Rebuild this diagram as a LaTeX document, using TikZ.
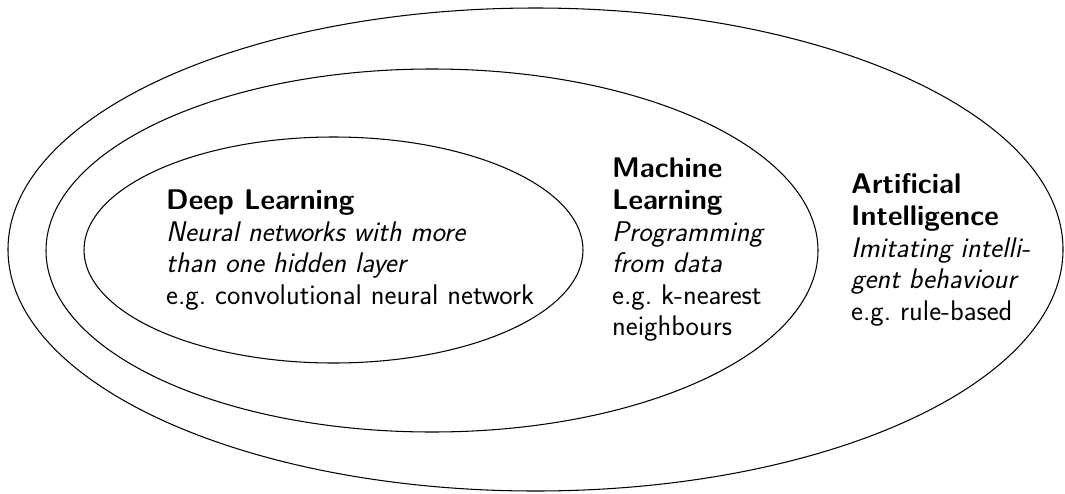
\documentclass[tikz,border=0pt]{standalone}
\usepackage{fontspec}
\begin{document}
\begin{tikzpicture}[x=1pt,y=-1pt,
  ring/.style={draw=black,line width=1.05pt},
  label/.style={anchor=west,inner sep=0pt,align=left,
    font=\sffamily\fontsize{28.4}{31.6}\selectfont}]
\useasboundingbox (0,0) rectangle (1065,493);

% nested fields: AI > ML > DL
\draw[ring] (535.5,249.5) ellipse [x radius=527.5, y radius=241.5];
\draw[ring] (432,250.5) ellipse [x radius=386, y radius=181.5];
\draw[ring] (333.5,250) ellipse [x radius=249.5, y radius=113];

\node[label] (dl) at (166,250) {\textbf{Deep Learning}\\
  \textit{Neural networks with more}\\
  \textit{than one hidden layer}\\
  e.g.\ convolutional neural network};

\node[label] (ml) at (612,250) {\textbf{Machine}\\
  \textbf{Learning}\\
  \textit{Programming}\\
  \textit{from data}\\
  e.g.\ k-nearest\\
  neighbours};

\node[label] (ai) at (851,250) {\textbf{Artificial}\\
  \textbf{Intelligence}\\
  \textit{Imitating intelli-}\\
  \textit{gent behaviour}\\
  e.g.\ rule-based};
\end{tikzpicture}
\end{document}
